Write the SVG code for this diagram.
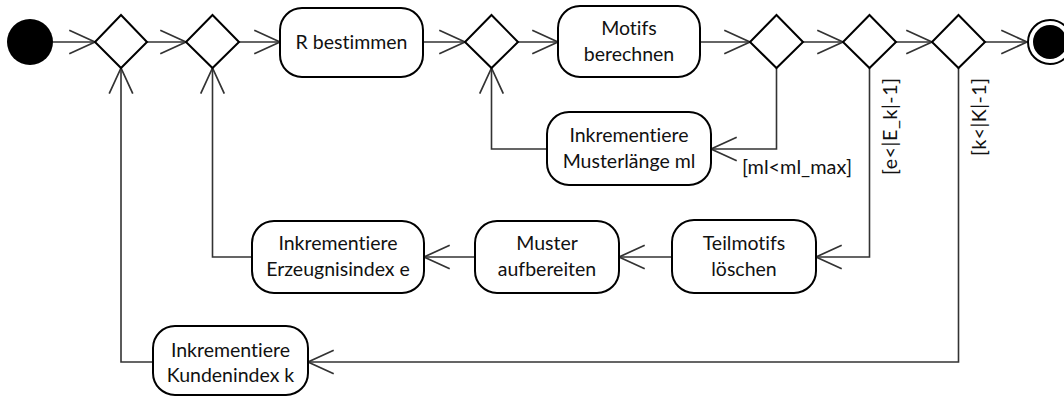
<svg xmlns="http://www.w3.org/2000/svg" width="1064" height="396" viewBox="0 0 1064 396">
  <style>
    .act { fill: #fff; stroke: #000; stroke-width: 2; }
    .dec { fill: #fff; stroke: #000; stroke-width: 2; }
    .flow { fill: none; stroke: #333; stroke-width: 1.6; }
    text { font-variant-ligatures: none; font-feature-settings: "liga" 0; }
    .lbl { font-family: Lato, "Open Sans", sans-serif; font-size: 19.5px; fill: #111; text-anchor: middle; }
    .guard { font-family: Lato, "Open Sans", sans-serif; font-size: 19.5px; fill: #111; }
  </style>
  <defs>
    <marker id="open" markerUnits="userSpaceOnUse" markerWidth="30" markerHeight="30" refX="0" refY="0" viewBox="-26 -13 28 26" orient="auto" overflow="visible">
      <path d="M-24,-11 L0,0 L-24,11" fill="none" stroke="#333" stroke-width="1.6"/>
    </marker>
  </defs>

  <!-- control flows -->
  <g id="connectors" class="flow">
    <path d="M53,42 H95" marker-end="url(#open)"/>
    <path d="M147,42 H186" marker-end="url(#open)"/>
    <path d="M239,42 H280" marker-end="url(#open)"/>
    <path d="M423,42 H465" marker-end="url(#open)"/>
    <path d="M518,42 H558" marker-end="url(#open)"/>
    <path d="M700,42 H750" marker-end="url(#open)"/>
    <path d="M803,42 H843" marker-end="url(#open)"/>
    <path d="M896,42 H932" marker-end="url(#open)"/>
    <path d="M985,42 H1027" marker-end="url(#open)"/>
    <!-- ml loop -->
    <path d="M776.5,68 V149 H711" marker-end="url(#open)"/>
    <path d="M547,149 H491.5 V68" marker-end="url(#open)"/>
    <!-- e loop -->
    <path d="M869.5,68 V257 H816" marker-end="url(#open)"/>
    <path d="M672,257 H619" marker-end="url(#open)"/>
    <path d="M475,257 H424" marker-end="url(#open)"/>
    <path d="M252,257 H212.5 V68" marker-end="url(#open)"/>
    <!-- k loop -->
    <path d="M958.5,68 V362 H308" marker-end="url(#open)"/>
    <path d="M153,362 H121 V68" marker-end="url(#open)"/>
  </g>

  <g id="guards">
    <text class="guard" x="742" y="174" textLength="110" lengthAdjust="spacingAndGlyphs">[ml&lt;ml_max]</text>
    <text class="guard" transform="translate(897,78) rotate(-90)" text-anchor="end" textLength="97" lengthAdjust="spacing">[e&lt;|E_k|-1]</text>
    <text class="guard" transform="translate(986,78) rotate(-90)" text-anchor="end" textLength="78" lengthAdjust="spacing">[k&lt;|K|-1]</text>
  </g>

  <g id="start"><circle cx="30" cy="42" r="23" fill="#000"/></g>

  <g id="d1"><path class="dec" d="M121,15 L147,42 L121,68 L95,42 Z"/></g>
  <g id="d2"><path class="dec" d="M212.5,15 L239,42 L212.5,68 L186,42 Z"/></g>
  <g id="d3"><path class="dec" d="M491.5,15 L518,42 L491.5,68 L465,42 Z"/></g>
  <g id="d4"><path class="dec" d="M776.5,15 L803,42 L776.5,68 L750,42 Z"/></g>
  <g id="d5"><path class="dec" d="M869.5,15 L896,42 L869.5,68 L843,42 Z"/></g>
  <g id="d6"><path class="dec" d="M958.5,15 L985,42 L958.5,68 L932,42 Z"/></g>

  <g id="end">
    <circle cx="1050" cy="42" r="22" fill="#fff" stroke="#000" stroke-width="2"/>
    <circle cx="1050" cy="42" r="17" fill="#000"/>
  </g>

  <g id="r-bestimmen">
    <rect class="act" x="280" y="8" width="143" height="69" rx="22"/>
    <text class="lbl" x="351.5" y="49">R bestimmen</text>
  </g>
  <g id="motifs-berechnen">
    <rect class="act" x="558" y="6" width="142" height="71" rx="22"/>
    <text class="lbl" x="629" y="35">Motifs</text>
    <text class="lbl" x="629" y="61">berechnen</text>
  </g>
  <g id="inkr-ml">
    <rect class="act" x="547" y="112" width="164" height="73" rx="22"/>
    <text class="lbl" x="629" y="142">Inkrementiere</text>
    <text class="lbl" x="629" y="168">Musterlänge ml</text>
  </g>
  <g id="teilmotifs">
    <rect class="act" x="672" y="220" width="144" height="73" rx="22"/>
    <text class="lbl" x="744" y="250">Teilmotifs</text>
    <text class="lbl" x="744" y="276">löschen</text>
  </g>
  <g id="muster">
    <rect class="act" x="475" y="221" width="144" height="72" rx="22"/>
    <text class="lbl" x="547" y="250">Muster</text>
    <text class="lbl" x="547" y="276">aufbereiten</text>
  </g>
  <g id="inkr-e">
    <rect class="act" x="252" y="221" width="172" height="72" rx="22"/>
    <text class="lbl" x="338" y="250">Inkrementiere</text>
    <text class="lbl" x="338" y="276">Erzeugnisindex e</text>
  </g>
  <g id="inkr-k">
    <rect class="act" x="153" y="326" width="155" height="69" rx="22"/>
    <text class="lbl" x="230.5" y="357">Inkrementiere</text>
    <text class="lbl" x="230.5" y="382">Kundenindex k</text>
  </g>
</svg>
